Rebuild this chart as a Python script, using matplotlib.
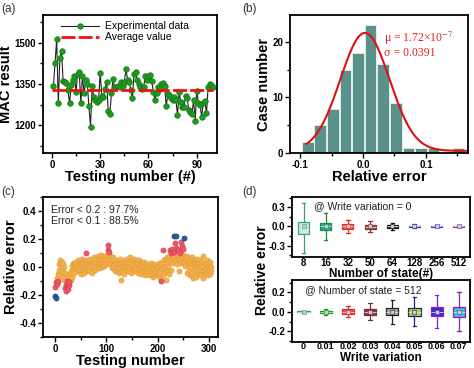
import numpy as np
import matplotlib
matplotlib.use("Agg")
import matplotlib.pyplot as plt
from matplotlib.ticker import MultipleLocator

plt.rcParams['font.family'] = ['Liberation Sans', 'DejaVu Sans']
plt.rcParams['mathtext.fontset'] = 'stix'

# ---------------- data ----------------
# (a) MAC result vs testing number
mac_values = [1344, 1428, 1513, 1280, 1446, 1470, 1361, 1358, 1355, 1328,
              1280, 1346, 1364, 1379, 1322, 1386, 1394, 1280, 1379, 1316,
              1364, 1352, 1270, 1196, 1343, 1304, 1292, 1286, 1292, 1391,
              1307, 1304, 1334, 1358, 1253, 1242, 1316, 1368, 1338, 1338,
              1343, 1338, 1356, 1343, 1358, 1404, 1366, 1358, 1328, 1298,
              1386, 1394, 1364, 1350, 1338, 1334, 1340, 1379, 1364, 1379,
              1382, 1362, 1322, 1292, 1319, 1338, 1334, 1352, 1355, 1343,
              1270, 1313, 1310, 1300, 1292, 1304, 1294, 1238, 1322, 1286,
              1268, 1266, 1307, 1298, 1256, 1250, 1242, 1292, 1218, 1326,
              1280, 1274, 1232, 1283, 1290, 1244, 1338, 1352, 1346, 1340]
mac_average = 1327

# (b) histogram of relative error
hist_centers = [-0.088, -0.068, -0.048, -0.028, -0.008, 0.012, 0.032,
                0.052, 0.072, 0.092, 0.112, 0.132, 0.152]
hist_counts = [2, 5, 8, 15, 18, 23, 16, 9, 1, 1, 1, 0, 1]
fit_mu = 0.003
fit_sigma = 0.0391
fit_amp = 21.2
fit_offset = 0.4

# (c) relative error over 305 tests
rel_err = [
    -0.14, -0.21, -0.22, -0.11, -0.08, -0.12, -0.05, -0.10, -0.02, 0.02,
    -0.06, 0.05, 0.01, -0.03, 0.04, 0.02, -0.07, 0.00, -0.09, -0.04,
    -0.15, -0.13, -0.17, -0.10, -0.12, -0.16, -0.06, -0.13, -0.11, -0.08,
    -0.05, -0.09, -0.03, -0.07, 0.01, -0.02, 0.03, -0.04, 0.02, 0.00,
    0.03, -0.01, 0.04, 0.01, -0.03, 0.05, 0.02, -0.02, 0.00, 0.04,
    -0.05, 0.02, 0.01, 0.06, -0.01, 0.03, -0.04, 0.00, 0.02, 0.05,
    0.10, 0.01, -0.02, 0.03, 0.05, 0.00, -0.03, 0.02, 0.04, 0.06,
    -0.01, 0.01, 0.03, -0.04, 0.02, 0.05, 0.00, 0.07, 0.03, -0.02,
    0.04, 0.06, 0.01, 0.08, 0.03, -0.01, 0.05, 0.07, 0.02, 0.09,
    0.04, 0.00, 0.06, 0.03, 0.08, 0.05, 0.01, 0.07, 0.04, 0.02,
    0.06, 0.09, 0.03, 0.12, 0.16, 0.05, 0.11, 0.08, 0.02, 0.06,
    0.04, -0.01, 0.03, 0.07, 0.00, 0.05, 0.02, -0.03, 0.04, 0.01,
    0.03, -0.02, 0.05, 0.00, -0.04, 0.02, 0.06, -0.01, -0.09, 0.03,
    0.01, -0.03, 0.04, 0.00, 0.02, -0.05, 0.05, 0.01, -0.02, 0.03,
    0.00, 0.06, -0.03, 0.02, 0.04, -0.01, 0.07, 0.01, -0.04, 0.03,
    0.05, -0.02, 0.02, 0.00, 0.06, -0.03, 0.04, 0.01, -0.01, 0.05,
    0.02, -0.04, 0.03, 0.00, 0.05, -0.02, 0.01, 0.04, -0.05, 0.02,
    -0.01, 0.03, 0.00, -0.03, 0.04, -0.06, 0.01, -0.02, 0.02, -0.04,
    0.00, -0.05, 0.02, -0.03, 0.01, -0.06, -0.02, 0.03, -0.04, 0.00,
    -0.07, -0.01, 0.02, -0.05, -0.03, 0.01, -0.06, -0.02, 0.00, -0.04,
    -0.02, 0.01, -0.05, 0.03, -0.08, -0.03, 0.02, -0.10, 0.04, -0.01,
    0.12, -0.06, 0.05, -0.04, 0.00, 0.06, -0.09, 0.02, -0.03, 0.07,
    0.01, 0.08, -0.05, 0.12, 0.04, 0.10, -0.02, 0.06, 0.13, 0.03,
    0.08, 0.22, 0.11, 0.17, 0.05, 0.14, 0.22, 0.09, 0.02, 0.12,
    0.06, 0.08, -0.03, 0.05, 0.10, 0.18, 0.03, 0.07, 0.15, 0.13,
    0.09, 0.04, 0.21, 0.06, 0.01, 0.08, -0.04, 0.05, 0.02, 0.07,
    -0.02, 0.04, 0.06, -0.06, 0.03, 0.00, 0.07, -0.04, 0.02, -0.08,
    0.05, 0.01, -0.03, 0.04, -0.07, 0.02, -0.01, 0.06, -0.05, 0.03,
    0.00, -0.04, 0.05, -0.02, 0.02, -0.06, 0.04, 0.01, -0.08, 0.08,
    -0.03, 0.03, -0.05, 0.02, -0.01, 0.05, -0.04, 0.01, -0.06, 0.03,
    -0.02, 0.04, -0.05, 0.00, -0.03]

# (d) box statistics
state_labels = ['8', '16', '32', '50', '64', '128', '256', '512']
state_q1 = [-0.12, -0.05, -0.04, -0.04, -0.027, -0.015, -0.008, -0.005]
state_med = [-0.04, 0.00, 0.00, -0.01, 0.00, 0.00, 0.00, 0.00]
state_q3 = [0.07, 0.06, 0.035, 0.025, 0.02, 0.012, 0.008, 0.005]
state_lo = [-0.41, -0.21, -0.11, -0.085, -0.053, -0.03, -0.015, -0.01]
state_hi = [0.37, 0.21, 0.10, 0.08, 0.053, 0.03, 0.015, 0.01]
state_mean = [0.0, 0.0, 0.0, 0.0, 0.0, 0.0, 0.0, 0.0]

wv_labels = ['0', '0.01', '0.02', '0.03', '0.04', '0.05', '0.06', '0.07']
wv_q1 = [-0.005, -0.01, -0.025, -0.03, -0.035, -0.04, -0.045, -0.05]
wv_med = [0.0, 0.0, 0.0, 0.0, 0.0, 0.0, 0.0, 0.0]
wv_q3 = [0.005, 0.01, 0.025, 0.03, 0.04, 0.04, 0.05, 0.055]
wv_lo = [-0.008, -0.03, -0.05, -0.08, -0.12, -0.14, -0.16, -0.2]
wv_hi = [0.008, 0.03, 0.06, 0.09, 0.12, 0.15, 0.17, 0.2]
wv_mean = [0.0, 0.0, 0.0, 0.0, 0.0, 0.0, 0.0, 0.0]

# ---------------- figure ----------------
fig = plt.figure(figsize=(4.74, 3.68), dpi=100)

tick_fs = 7
label_fs = 10.5


def style(ax, lw=1.3):
    for s in ax.spines.values():
        s.set_linewidth(lw)
    ax.tick_params(which='both', direction='out', top=False, right=False,
                   labelsize=tick_fs, width=1.0)
    ax.tick_params(which='major', length=3.5, pad=1.5)
    ax.tick_params(which='minor', length=2)
    for lab in ax.get_xticklabels() + ax.get_yticklabels():
        lab.set_fontweight('bold')


# (a)
axa = fig.add_axes([0.0907, 0.584, 0.367, 0.375])
xa = np.arange(1, len(mac_values) + 1)
axa.plot(xa, mac_values, '-', color='#222222', lw=0.8, marker='o', ms=4,
         mfc='#1e9a1e', mec='#137a13', mew=0.5, label='Experimental data')
axa.plot([0, 100], [mac_average, mac_average], '--', color='#ee1111', lw=2.0,
         dashes=(5, 1.2), label='Average value')
axa.set_xlim(-5.5, 102.5)
axa.set_ylim(1100, 1600)
axa.set_xticks([0, 30, 60, 90])
axa.set_yticks([1200, 1350, 1500])
axa.xaxis.set_minor_locator(MultipleLocator(15))
axa.yaxis.set_minor_locator(MultipleLocator(75))
axa.set_xlabel('Testing number (#)', fontsize=label_fs, fontweight='bold', labelpad=0)
axa.set_ylabel('MAC result', fontsize=label_fs, fontweight='bold', labelpad=1)
style(axa)
axa.legend(loc='upper left', bbox_to_anchor=(0.07, 1.0), frameon=False,
           fontsize=7.5, handlelength=3.6, handletextpad=0.6,
           labelspacing=0.1, borderaxespad=0.2)

# (b)
axb = fig.add_axes([0.612, 0.584, 0.3755, 0.375])
axb.bar(hist_centers, hist_counts, width=0.0185, color='#5b918d',
        edgecolor='#e8f4ea', linewidth=0.6)
xs = np.linspace(-0.09, 0.167, 300)
axb.plot(xs, fit_offset + fit_amp * np.exp(-(xs - fit_mu) ** 2 / (2 * fit_sigma ** 2)),
         color='#dd1111', lw=1.5)
axb.set_xlim(-0.116, 0.167)
axb.set_ylim(0, 24.8)
axb.set_xticks([-0.1, 0.0, 0.1])
axb.set_xticklabels(['-0.1', '0.0', '0.1'])
axb.set_yticks([0, 10, 20])
axb.xaxis.set_minor_locator(MultipleLocator(0.05))
axb.yaxis.set_minor_locator(MultipleLocator(5))
axb.set_xlabel('Relative error', fontsize=label_fs, fontweight='bold', labelpad=0)
axb.set_ylabel('Case number', fontsize=label_fs, fontweight='bold', labelpad=1)
style(axb)
axb.text(0.033, 20.0, 'μ = 1.72×10$^{-7}$', color='#dd2222', fontsize=8.5,
         family='Liberation Serif', va='baseline')
axb.text(0.033, 17.4, 'σ = 0.0391', color='#dd2222', fontsize=8.5,
         family='Liberation Serif', va='baseline')

# (c)
axc = fig.add_axes([0.0907, 0.0842, 0.369, 0.380])
err = np.array(rel_err)
xc = np.arange(len(err))
absr = np.abs(err)
m_or = absr < 0.1
m_red = (absr >= 0.1) & (absr < 0.2)
m_blue = absr >= 0.2
axc.scatter(xc[m_or], err[m_or], s=14, color='#f3b050', edgecolor='#e39a30', lw=0.4, zorder=2)
axc.scatter(xc[m_red], err[m_red], s=14, color='#ee5566', edgecolor='#d03a4a', lw=0.4, zorder=3)
axc.scatter(xc[m_blue], err[m_blue], s=14, color='#1f5f9f', edgecolor='#114477', lw=0.4, zorder=4)
axc.set_xlim(-23, 317)
axc.set_ylim(-0.5, 0.5)
axc.set_xticks([0, 100, 200, 300])
axc.set_yticks([-0.4, -0.2, 0.0, 0.2, 0.4])
axc.set_yticklabels(['-0.4', '-0.2', '0.0', '0.2', '0.4'])
axc.xaxis.set_minor_locator(MultipleLocator(50))
axc.yaxis.set_minor_locator(MultipleLocator(0.1))
axc.set_xlabel('Testing number', fontsize=label_fs, fontweight='bold', labelpad=0)
axc.set_ylabel('Relative error', fontsize=label_fs, fontweight='bold', labelpad=1)
style(axc)
axc.text(-7.5, 0.39, 'Error < 0.2 : 97.7%', fontsize=7.5, va='baseline', color='#222222')
axc.text(-7.5, 0.305, 'Error < 0.1 : 88.5%', fontsize=7.5, va='baseline', color='#222222')

# (d)
edge_top = ['#3d9a8c', '#1f8a3a', '#e02a2a', '#8b2f2f', '#111111', '#1a3a8a', '#3a30e0', '#7a3a9a']
fill_top = ['#c9efdc', '#25a6ad', '#f06060', '#a85050', '#444444', '#23439a', '#4a4af0', '#8a5ab0']
edge_bot = ['#20a0a0', '#1a9a1a', '#e02a2a', '#7a2a3a', '#222222', '#1a2a6a', '#8a20c0', '#8a20b0']
fill_bot = ['#40c0c0', '#20a020', '#f05050', '#8a3a4a', '#a8a8a8', '#b8d040', '#3a30d0', '#30c8d8']


def boxes(ax, q1, med, q3, lo, hi, mean, edges, fills, width):
    stats = []
    for i in range(len(q1)):
        stats.append(dict(q1=q1[i], med=med[i], q3=q3[i], whislo=lo[i],
                          whishi=hi[i], mean=mean[i], fliers=[]))
    for i, st in enumerate(stats):
        ax.bxp([st], positions=[i], widths=width, patch_artist=True,
               showmeans=True, showfliers=False,
               boxprops=dict(facecolor=fills[i], edgecolor=edges[i], lw=0.9),
               whiskerprops=dict(color=edges[i], lw=0.9),
               capprops=dict(color=edges[i], lw=0.9),
               medianprops=dict(color='#dddddd', lw=0.6),
               meanprops=dict(marker='s', markersize=2.2, markerfacecolor='#cccccc',
                              markeredgecolor=edges[i], markeredgewidth=0.4),
               capwidths=0.15, manage_ticks=False)


axd1 = fig.add_axes([0.616, 0.3016, 0.3755, 0.163])
boxes(axd1, state_q1, state_med, state_q3, state_lo, state_hi, state_mean,
      edge_top, fill_top, 0.5)
axd1.set_xlim(-0.52, 7.5)
axd1.set_ylim(-0.48, 0.46)
axd1.set_xticks(range(8))
axd1.set_xticklabels(state_labels)
axd1.set_yticks([-0.3, 0.0, 0.3])
axd1.set_yticklabels(['-0.3', '0.0', '0.3'])
axd1.yaxis.set_minor_locator(MultipleLocator(0.15))
axd1.set_xlabel('Number of state(#)', fontsize=8.5, fontweight='bold')
style(axd1)
axd1.tick_params(axis='x', length=0, pad=1)
axd1.xaxis.set_label_coords(0.5, -0.19)
axd1.text(0.45, 0.40, '@ Write variation = 0', fontsize=7.5, va='top', color='#222222')

axd2 = fig.add_axes([0.616, 0.072, 0.3755, 0.166])
boxes(axd2, wv_q1, wv_med, wv_q3, wv_lo, wv_hi, wv_mean, edge_bot, fill_bot, 0.55)
axd2.set_xlim(-0.52, 7.5)
axd2.set_ylim(-0.303, 0.323)
axd2.set_xticks(range(8))
axd2.set_xticklabels(wv_labels)
axd2.set_yticks([-0.2, 0.0, 0.2])
axd2.set_yticklabels(['-0.2', '0.0', '0.2'])
axd2.yaxis.set_minor_locator(MultipleLocator(0.1))
axd2.set_xlabel('Write variation', fontsize=8.5, fontweight='bold')
style(axd2)
axd2.tick_params(axis='x', length=0, pad=0.5, labelsize=6.5)
axd2.xaxis.set_label_coords(0.5, -0.17)
axd2.text(0.05, 0.275, '@ Number of state = 512', fontsize=7.5, va='top', color='#222222')

fig.text(0.553, 0.266, 'Relative error', rotation=90, fontsize=10,
         fontweight='bold', ha='center', va='center')

# panel labels
for txt, x, y in [('(a)', 0.002, 0.975), ('(b)', 0.512, 0.975),
                  ('(c)', 0.002, 0.478), ('(d)', 0.512, 0.478)]:
    fig.text(x, y, txt, fontsize=8.5, color='#333333', va='center')

fig.savefig('out.png', dpi=100)
